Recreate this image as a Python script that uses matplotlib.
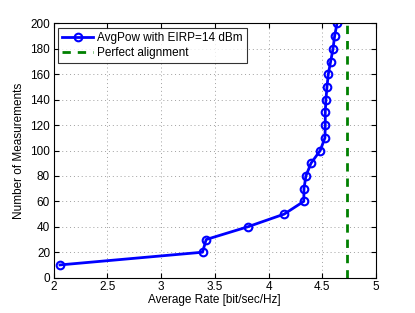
import matplotlib
matplotlib.use("Agg")
import matplotlib.pyplot as plt

measurements = [10, 20, 30, 40, 50, 60, 70, 80, 90, 100, 110, 120, 130, 140, 150, 160, 170, 180, 190, 200]
avg_rate = [2.06, 3.386, 3.42, 3.807, 4.146, 4.328, 4.33, 4.348, 4.395, 4.481, 4.525, 4.528, 4.528, 4.534, 4.544, 4.556, 4.578, 4.60, 4.615, 4.637]
perfect_rate = 4.73
xticks = [2, 2.5, 3, 3.5, 4, 4.5, 5]
xticklabels = ["2", "2.5", "3", "3.5", "4", "4.5", "5"]
yticks = list(range(0, 201, 20))

plt.rcParams['font.family'] = ['Liberation Sans', 'DejaVu Sans']
fig = plt.figure(figsize=(4.15, 3.13), dpi=100)
ax = fig.add_axes([0.129, 0.113, 0.777, 0.812])

ax.plot(avg_rate, measurements, '-o', color='#0000ff', lw=2, ms=5.5,
        mfc='none', mec='#0000ff', mew=1.5, label='AvgPow with EIRP=14 dBm')
ax.plot([perfect_rate, perfect_rate], [0, 200], '--', color='#008000', lw=2,
        dashes=(3, 2.5), label='Perfect alignment')

ax.set_xlim(2, 5)
ax.set_ylim(0, 200)
ax.set_xticks(xticks)
ax.set_xticklabels(xticklabels)
ax.set_yticks(yticks)
ax.grid(True, linestyle=(0, (1, 3)), color='#a0a0a0', lw=0.7)
ax.tick_params(direction='in', top=True, right=True, labelsize=8.5, length=3.5, pad=2.5)
for s in ax.spines.values():
    s.set_linewidth(0.8)
ax.set_xlabel('Average Rate [bit/sec/Hz]', fontsize=8.5, labelpad=1)
ax.set_ylabel('Number of Measurements', fontsize=8.5, labelpad=4)

leg = ax.legend(loc='upper left', fontsize=8.5, frameon=True, fancybox=False,
                borderpad=0.35, labelspacing=0.25, handlelength=2.6, handletextpad=0.35,
                borderaxespad=0.4)
leg.get_frame().set_edgecolor('black')
leg.get_frame().set_linewidth(0.8)

fig.savefig('out.png', dpi=100)
